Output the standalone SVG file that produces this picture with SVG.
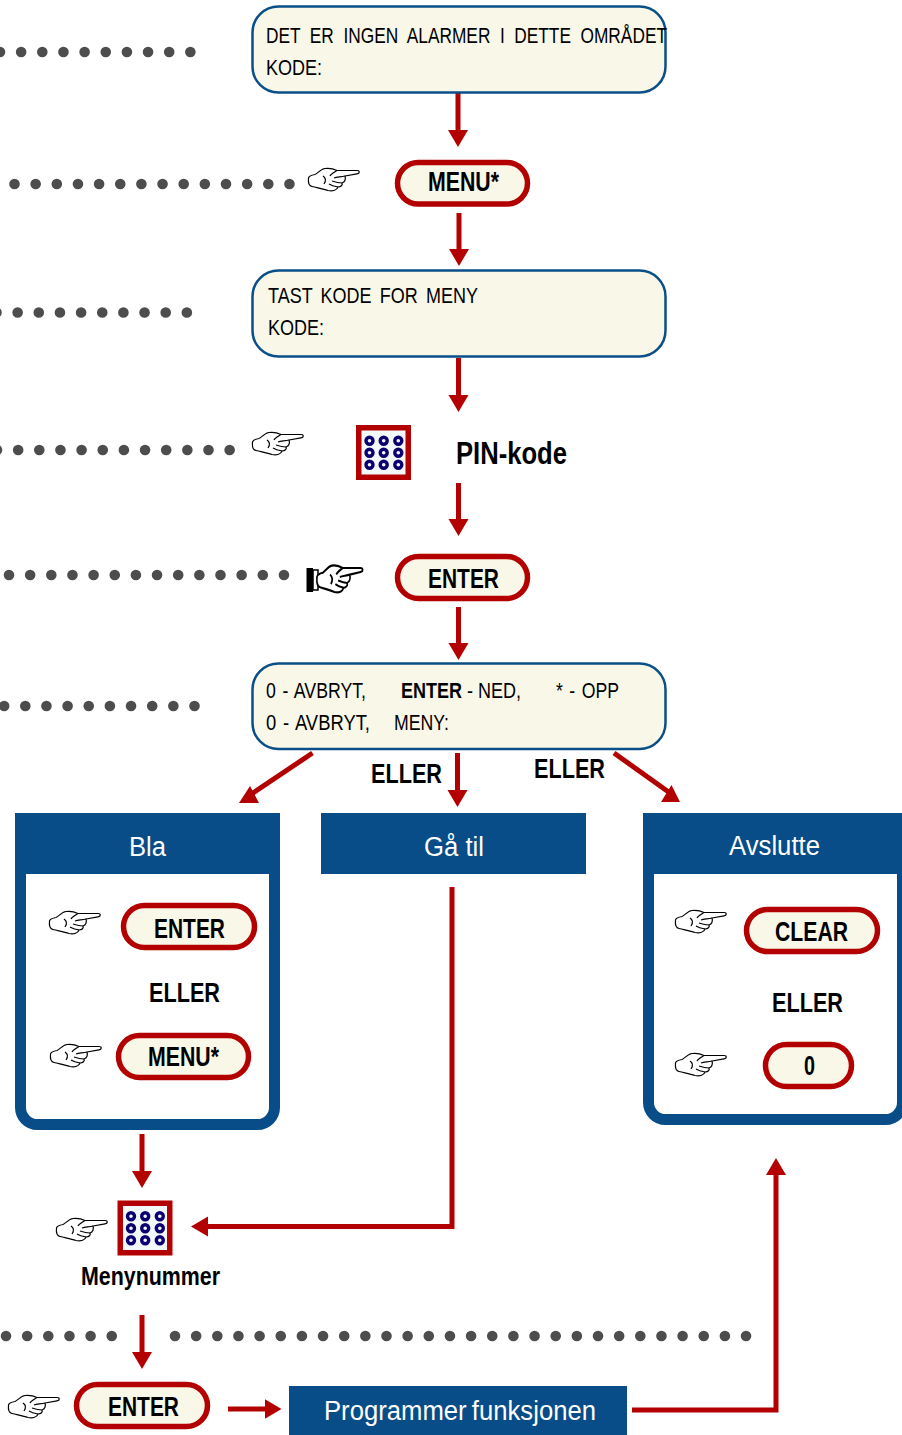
<svg xmlns="http://www.w3.org/2000/svg" xmlns:xlink="http://www.w3.org/1999/xlink" width="902" height="1435" viewBox="0 0 902 1435">
<style>
text{font-family:"Liberation Sans",Arial,sans-serif;fill:#000}
.lcd{fill:#f9f8e8;stroke:#0a4f87;stroke-width:2.5}
.pill{fill:#f9f8e8;stroke:#b30000;stroke-width:5.500}
.l{font-size:22px}
.b{font-size:27px;font-weight:bold}
.h{font-size:27px;fill:#fff}
.blue{fill:#084d87}
.panel{fill:#fff;stroke:#084d87;stroke-width:11}
.dots{fill:none;stroke:#4d4d4d;stroke-width:10.6;stroke-linecap:round;stroke-dasharray:0 21.15}
.c{fill:none;stroke:#b30000;stroke-width:5}
.hd{fill:#b30000}
.hand{fill:#fff;stroke:#000;stroke-width:1.2;stroke-linejoin:round}
.hb{fill:#fff;stroke:#000;stroke-width:1.800;stroke-linejoin:round}
.kf{fill:#f3f9fb;stroke:#b30000;stroke-width:5.5}
.kd{fill:#f3f9fb;stroke:#0c0070;stroke-width:3.4}
</style>
<defs>
<marker id="ah" markerUnits="userSpaceOnUse" markerWidth="18" markerHeight="22" refX="1" refY="11" orient="auto"><path d="M0,1L17,11L0,21Z" class="hd"/></marker>
<g id="handg">
<path d="M0.500,10C1,8 4,7 7,6.500C10,5 13,1 17,0.500C21,0 26,1 29,2.500L49,2.500C52,2.500 52,5.500 49,5.800L37,8C38,11 37,14 34,15C35,17 33,19 30,19C29,22 25,23.500 20,22.500C15,21 10,20 4,18.500C1,18 0,15 0.500,10Z"/>
<path d="M29,2.500C26,4.500 23,6 22,8M37,8C33,9 29,9 26,10M34,15C31,15 27,14 24,13M30,19C27,18.500 24,18 21,16M15,8C18,10 18,13 16,16" fill="none"/>
</g>
<g id="keypad">
<rect x="2.750" y="2.750" width="49.500" height="49.500" class="kf"/>
<circle cx="13.500" cy="15.700" r="3.500" class="kd"/><circle cx="27.700" cy="15.700" r="3.500" class="kd"/><circle cx="42.300" cy="15.700" r="3.500" class="kd"/>
<circle cx="13.500" cy="27.700" r="3.500" class="kd"/><circle cx="27.700" cy="27.700" r="3.500" class="kd"/><circle cx="42.300" cy="27.700" r="3.500" class="kd"/>
<circle cx="13.500" cy="39.700" r="3.500" class="kd"/><circle cx="27.700" cy="39.700" r="3.500" class="kd"/><circle cx="42.300" cy="39.700" r="3.500" class="kd"/>
</g>
</defs>

<g id="dotted-guides">
<path class="dots" d="M0,52H192"/>
<path class="dots" d="M14.500,184H291"/>
<path class="dots" d="M-3.500,312.500H188"/>
<path class="dots" d="M-3,450H231"/>
<path class="dots" d="M9,575H286"/>
<path class="dots" d="M-17,706H195"/>
<path class="dots" d="M6,1336H113"/>
<path class="dots" d="M175,1336H750"/>
</g>

<g id="connectors">
<path class="c" d="M458,93V131" marker-end="url(#ah)"/>
<path class="c" d="M459,213V250" marker-end="url(#ah)"/>
<path class="c" d="M458.500,358V396" marker-end="url(#ah)"/>
<path class="c" d="M458.500,483V520" marker-end="url(#ah)"/>
<path class="c" d="M458.500,607V644" marker-end="url(#ah)"/>
<path class="c" d="M312.500,753L250,795"/><path class="hd" d="M239,803H259L250,786Z"/>
<path class="c" d="M457.500,753V791" marker-end="url(#ah)"/>
<path class="c" d="M614,753L670,793"/><path class="hd" d="M661,802H680L671.500,785Z"/>
<path class="c" d="M142,1134V1172" marker-end="url(#ah)"/>
<path class="c" d="M452,887V1226.500H207" marker-end="url(#ah)"/>
<path class="c" d="M142,1315V1353" marker-end="url(#ah)"/>
<path class="c" d="M228,1409H265.500" marker-end="url(#ah)"/>
<path class="c" d="M632,1410H776V1174" marker-end="url(#ah)"/>
</g>

<g id="lcd-alarm">
<rect class="lcd" x="252.500" y="6.500" width="413" height="86" rx="26"/>
<text class="l" x="266" y="43" word-spacing="6" textLength="401" lengthAdjust="spacingAndGlyphs">DET ER INGEN ALARMER I DETTE OMRÅDET</text>
<text class="l" x="266" y="75" textLength="56" lengthAdjust="spacingAndGlyphs">KODE:</text>
</g>
<g id="key-menu">
<rect class="pill" x="397.500" y="162.500" width="130" height="41.500" rx="20.700"/>
<text class="b" x="428" y="191" textLength="71" lengthAdjust="spacingAndGlyphs">MENU*</text>
</g>
<g id="hand-menu"><use xlink:href="#handg" href="#handg" class="hand" x="308" y="168"/></g>
<g id="lcd-code">
<rect class="lcd" x="252.500" y="270.500" width="413" height="86" rx="26"/>
<text class="l" x="268" y="303" word-spacing="4" textLength="210" lengthAdjust="spacingAndGlyphs">TAST KODE FOR MENY</text>
<text class="l" x="268" y="335" textLength="56" lengthAdjust="spacingAndGlyphs">KODE:</text>
</g>
<g id="hand-pin"><use xlink:href="#handg" href="#handg" class="hand" x="252" y="432"/></g>
<g id="keypad-pin"><use xlink:href="#keypad" href="#keypad" x="356" y="425"/></g>
<g id="label-pin"><text x="456" y="464" font-size="31" font-weight="bold" textLength="111" lengthAdjust="spacingAndGlyphs">PIN-kode</text></g>
<g id="hand-enter">
<rect x="306.500" y="568" width="6.500" height="24" fill="#000"/>
<path d="M313,570H318V590H313Z" fill="#fff" stroke="#000" stroke-width="1.500"/>
<use xlink:href="#handg" href="#handg" class="hb" transform="translate(316.500,565) scale(0.9,1.2)"/>
</g>
<g id="key-enter">
<rect class="pill" x="397.500" y="556.500" width="130" height="42" rx="21"/>
<text class="b" x="428" y="588" textLength="71" lengthAdjust="spacingAndGlyphs">ENTER</text>
</g>
<g id="lcd-menu">
<rect class="lcd" x="252.500" y="663.500" width="413" height="85.500" rx="26"/>
<text class="l" x="266" y="698" word-spacing="2" textLength="100" lengthAdjust="spacingAndGlyphs">0 - AVBRYT,</text>
<text class="l" x="401" y="698" textLength="120" lengthAdjust="spacingAndGlyphs"><tspan font-weight="bold">ENTER</tspan> - NED,</text>
<text class="l" x="556" y="698" word-spacing="2" textLength="63" lengthAdjust="spacingAndGlyphs">* - OPP</text>
<text class="l" x="266" y="730" word-spacing="2" textLength="104" lengthAdjust="spacingAndGlyphs">0 - AVBRYT,</text>
<text class="l" x="394" y="730" textLength="55" lengthAdjust="spacingAndGlyphs">MENY:</text>
</g>
<g id="label-eller-1"><text class="b" x="371" y="783" textLength="71" lengthAdjust="spacingAndGlyphs">ELLER</text></g>
<g id="label-eller-2"><text class="b" x="534" y="778" textLength="71" lengthAdjust="spacingAndGlyphs">ELLER</text></g>

<g id="panel-bla">
<rect class="panel" x="20.500" y="830" width="254" height="294.500" rx="17"/>
<rect class="blue" x="15" y="813" width="265" height="61"/>
<text class="h" x="129" y="856" textLength="37" lengthAdjust="spacingAndGlyphs">Bla</text>
<use xlink:href="#handg" href="#handg" class="hand" x="49" y="911"/>
<rect class="pill" x="123.500" y="905.500" width="131" height="42" rx="21"/>
<text class="b" x="154" y="938" textLength="71" lengthAdjust="spacingAndGlyphs">ENTER</text>
<text class="b" x="149" y="1002" textLength="71" lengthAdjust="spacingAndGlyphs">ELLER</text>
<use xlink:href="#handg" href="#handg" class="hand" x="50" y="1044"/>
<rect class="pill" x="118.500" y="1035.500" width="130" height="42" rx="21"/>
<text class="b" x="148" y="1066" textLength="71" lengthAdjust="spacingAndGlyphs">MENU*</text>
</g>
<g id="panel-ga-til">
<rect class="blue" x="321" y="813" width="265" height="61"/>
<text class="h" x="424" y="856" textLength="60" lengthAdjust="spacingAndGlyphs">Gå til</text>
</g>
<g id="panel-avslutte">
<rect class="panel" x="648.500" y="830" width="254" height="289.500" rx="17"/>
<rect class="blue" x="643" y="813" width="259" height="61"/>
<text class="h" x="729" y="855" textLength="91" lengthAdjust="spacingAndGlyphs">Avslutte</text>
<use xlink:href="#handg" href="#handg" class="hand" x="675" y="910"/>
<rect class="pill" x="746.500" y="909.500" width="131" height="42" rx="21"/>
<text class="b" x="775" y="941" textLength="73" lengthAdjust="spacingAndGlyphs">CLEAR</text>
<text class="b" x="772" y="1012" textLength="71" lengthAdjust="spacingAndGlyphs">ELLER</text>
<use xlink:href="#handg" href="#handg" class="hand" x="675" y="1053"/>
<rect class="pill" x="765.500" y="1044.500" width="86" height="42" rx="21"/>
<text class="b" x="804" y="1075" textLength="11" lengthAdjust="spacingAndGlyphs">0</text>
</g>
<g id="hand-number"><use xlink:href="#handg" href="#handg" class="hand" x="56" y="1218"/></g>
<g id="keypad-number"><use xlink:href="#keypad" href="#keypad" x="117.500" y="1200.500"/></g>
<g id="label-menynummer"><text x="81" y="1285" font-size="25" font-weight="bold" textLength="139" lengthAdjust="spacingAndGlyphs">Menynummer</text></g>
<g id="hand-final"><use xlink:href="#handg" href="#handg" class="hand" x="8" y="1395"/></g>
<g id="key-final">
<rect class="pill" x="76.500" y="1384.500" width="131" height="42" rx="21"/>
<text class="b" x="108" y="1416" textLength="71" lengthAdjust="spacingAndGlyphs">ENTER</text>
</g>
<g id="node-programmer">
<rect class="blue" x="289" y="1386" width="338" height="49"/>
<text class="h" x="324" y="1420" word-spacing="-2" textLength="272" lengthAdjust="spacingAndGlyphs">Programmer funksjonen</text>
</g>
</svg>
